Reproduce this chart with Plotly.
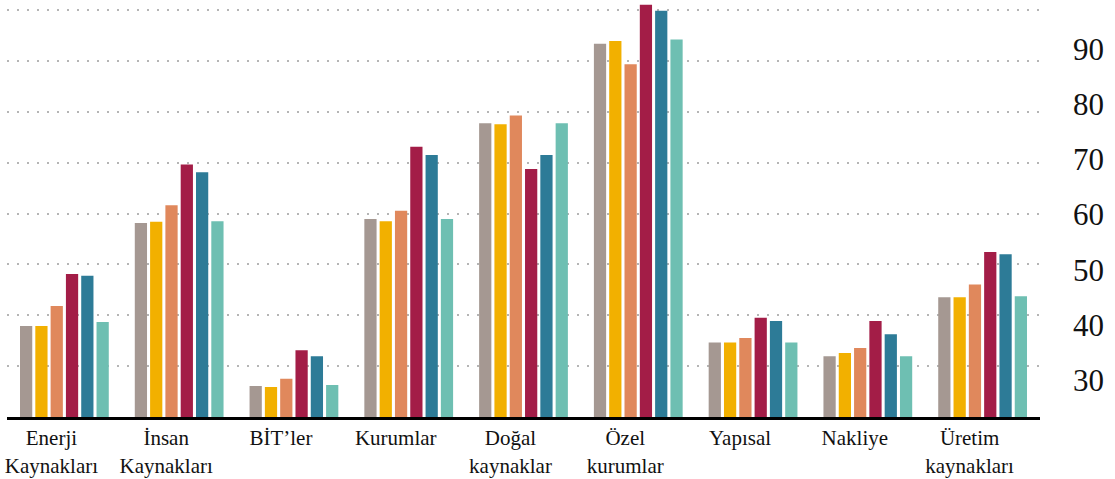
import plotly.graph_objects as go

categories = ["Enerji<br>Kaynakları", "İnsan<br>Kaynakları", "BİT’ler", "Kurumlar",
              "Doğal<br>kaynaklar", "Özel<br>kurumlar", "Yapısal", "Nakliye",
              "Üretim<br>kaynakları"]

series_names = ["Seri 1", "Seri 2", "Seri 3", "Seri 4", "Seri 5", "Seri 6"]

s1 = [39.8, 58.5, 28.9, 59.2, 76.6, 91.0, 36.8, 34.3, 45.0]
s2 = [39.8, 58.7, 28.7, 58.8, 76.4, 91.5, 36.8, 34.9, 45.0]
s3 = [43.4, 61.7, 30.2, 60.7, 78.0, 87.3, 37.6, 35.8, 47.3]
s4 = [49.2, 69.1, 35.4, 72.3, 68.3, 98.1, 41.3, 40.7, 53.2]
s5 = [48.9, 67.7, 34.3, 70.8, 70.8, 97.0, 40.7, 38.3, 52.8]
s6 = [40.5, 58.8, 29.1, 59.2, 76.6, 91.8, 36.8, 34.3, 45.2]

tick_vals = [30, 40, 50, 60, 70, 80, 90]
grid_vals = [10, 20, 30, 40, 50, 60, 70, 80]

colors = ["#A59892", "#F2B000", "#E0885C", "#A31D47", "#2D7B97", "#6EBFB2"]

fig = go.Figure()
# empty helper trace so the dotted-grid axis is drawn
fig.add_trace(go.Scatter(x=[categories[0]], y=[None], yaxis="y2", mode="lines",
                         showlegend=False, hoverinfo="skip"))
for name, vals, col in zip(series_names, [s1, s2, s3, s4, s5, s6], colors):
    fig.add_trace(go.Bar(x=categories, y=vals, name=name, marker_color=col,
                         marker_line_width=0))

fig.update_layout(
    width=1115, height=479,
    margin=dict(l=7, r=75, t=0, b=62),
    paper_bgcolor="white", plot_bgcolor="white",
    barmode="group", bargap=0.2, bargroupgap=0.2,
    showlegend=False,
    font=dict(family="Liberation Serif, Times New Roman, serif", color="#111111"),
    xaxis=dict(
        showline=True, linecolor="black", linewidth=3,
        ticks="", showgrid=False, zeroline=False,
        tickfont=dict(size=21, family="Liberation Serif"),
        range=[-0.5, 8.5], ticklabelshift=-13,
    ),
    yaxis=dict(
        side="right", range=[23.27, 98.95], tickvals=tick_vals,
        showgrid=False, zeroline=False, showline=False, ticks="",
        tickfont=dict(size=31, family="Liberation Serif"),
        ticklabelstandoff=32,
    ),
    yaxis2=dict(
        overlaying="y", side="left", range=[0, 82.0], tickvals=grid_vals,
        showgrid=True, gridcolor="#B5B5B5", gridwidth=2, griddash="2px,8px",
        showticklabels=False, zeroline=False, showline=False, ticks="",
    ),
)

fig.write_html("out.html", config={"displayModeBar": False},
               post_script="document.body.style.margin='0';document.body.style.overflow='hidden';")
